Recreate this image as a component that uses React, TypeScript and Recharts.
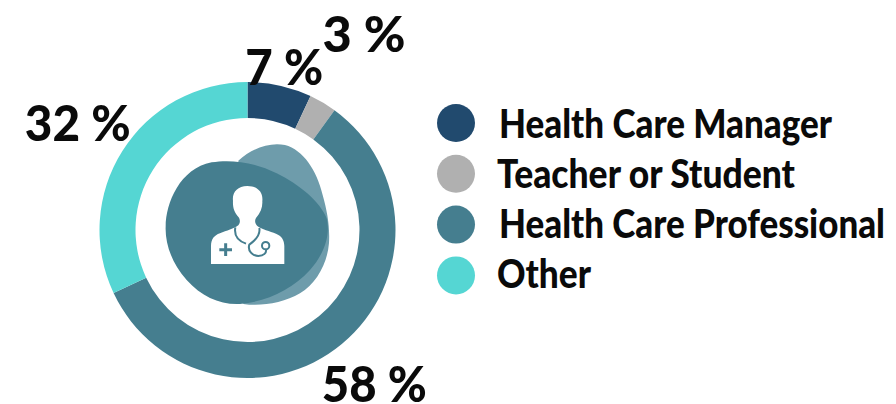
import { PieChart, Pie, Cell, Legend } from "recharts";

const CATEGORIES = ["Health Care Manager", "Teacher or Student", "Health Care Professional", "Other"];
const VALUES = [7, 3, 58, 32];
const COLORS = ["#214A6E", "#B0B0B0", "#457E8F", "#55D6D3"];

// how far each percent label sits from the centre, and how wide it is drawn
const LABEL_RADII = [168, 229, 199, 201];
const LABEL_WIDTHS = [78, 83, 105, 106];
const LEGEND_WIDTHS = [333, 298, 386, 94];
const LEGEND_TEXT_X = [499, 497, 499, 497];

const FONT = "Lato, sans-serif";
const RADIAN = Math.PI / 180;
// Lato is wider than the lettering in the picture, so squeeze the legend text
const LEGEND_SQUEEZE = 0.9;

const data = CATEGORIES.map((name, i) => ({ name, value: VALUES[i], fill: COLORS[i] }));

const renderLabel = ({ cx, cy, midAngle, index, value }: any) => {
  const r = LABEL_RADII[index];
  const x = cx + r * Math.cos(-midAngle * RADIAN);
  const y = cy + r * Math.sin(-midAngle * RADIAN);
  return (
    <text
      x={x}
      y={y}
      fill="#0a0a0a"
      fontFamily={FONT}
      fontWeight={900}
      fontSize={50}
      textAnchor="middle"
      dominantBaseline="central"
      textLength={LABEL_WIDTHS[index]}
      lengthAdjust="spacingAndGlyphs"
    >
      {`${value} %`}
    </text>
  );
};

const renderLegend = ({ payload }: any) => (
  <svg width={896} height={404} style={{ display: "block" }}>
    {(payload || []).map((entry: any, i: number) => (
      <g key={entry.value}>
        <circle cx={456} cy={123 + i * 50.8} r={19} fill={entry.color} />
        <text
          transform={`translate(${LEGEND_TEXT_X[i]} ${138 + i * 50}) scale(${LEGEND_SQUEEZE} 1)`}
          fill="#0a0a0a"
          fontFamily={FONT}
          fontWeight={900}
          fontSize={39}
          textLength={LEGEND_WIDTHS[i] / LEGEND_SQUEEZE}
          lengthAdjust="spacingAndGlyphs"
        >
          {entry.value}
        </text>
      </g>
    ))}
  </svg>
);

// the blobs and the doctor icon in the middle of the ring
const CenterIcon = () => (
  <g transform="translate(130 120) scale(0.3333)">
    <path
      d="M325 122 C365 85 420 65 465 75 C520 90 560 150 578 225 C592 275 600 320 597 370 C592 430 560 490 510 520 C460 550 390 560 340 552 Z"
      fill="#6E9CAB"
    />
    <path
      d="M245 127 C300 118 370 125 440 160 C510 195 570 245 590 295 C602 340 585 400 540 450 C485 510 410 545 330 552 C270 555 215 530 170 480 C125 430 105 370 107 320 C107 250 150 145 245 127 Z"
      fill="#457E8F"
    />
    <path
      d="M243 432 L243 378 C243 358 252 346 270 340 C290 332 312 326 325 316 C332 308 330 298 326 292 C312 276 308 262 309 242 C306 218 322 198 352 198 C382 198 400 216 397 244 C398 262 392 278 378 294 C374 300 374 310 382 318 C395 328 420 334 438 341 C455 348 463 360 463 378 L463 432 Z"
      fill="#ffffff"
    />
    <g fill="none" stroke="#457E8F" strokeWidth={6}>
      <path d="M316 322 C312 345 322 362 348 371 M388 324 C392 345 378 360 358 374 C352 392 368 408 385 408 C402 408 410 398 408 388" />
      <circle cx={407} cy={377} r={11} />
      <path d="M268 389 H306 M287 370 V408" strokeWidth={9} />
    </g>
  </g>
);

export default function App() {
  return (
    <div style={{ position: "absolute", left: 0, top: 0 }}>
      <PieChart width={896} height={404} margin={{ top: 0, right: 0, bottom: 0, left: 0 }}>
        <Pie
          data={data}
          dataKey="value"
          nameKey="name"
          cx={247.5}
          cy={230}
          innerRadius={112}
          outerRadius={148}
          startAngle={90}
          endAngle={-270}
          paddingAngle={0}
          stroke="none"
          labelLine={false}
          label={renderLabel}
          isAnimationActive={false}
        >
          {data.map((d) => (
            <Cell key={d.name} fill={d.fill} />
          ))}
        </Pie>
        <CenterIcon />
        <Legend content={renderLegend} itemSorter={null} wrapperStyle={{ left: 0, top: 0, width: 896, height: 404 }} />
      </PieChart>
    </div>
  );
}
